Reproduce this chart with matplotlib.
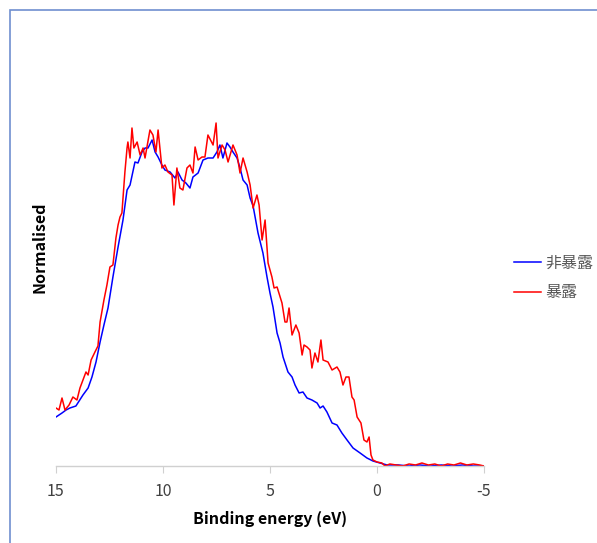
import matplotlib
matplotlib.use("Agg")
import matplotlib.pyplot as plt
from matplotlib.patches import Rectangle

plt.rcParams['font.family'] = ['Noto Sans CJK JP', 'DejaVu Sans']

# Binding energy (eV) and intensities (arbitrary, normalised units)
blue_E = [15.0, 14.72, 14.53, 14.35, 14.07, 13.74, 13.50, 13.32, 13.13, 12.94,
          12.76, 12.57, 12.34, 12.10, 11.87, 11.68, 11.54, 11.31, 11.17, 10.98,
          10.84, 10.70, 10.51, 10.37, 10.23, 10.05, 9.91, 9.67, 9.44, 9.30,
          9.11, 8.93, 8.74, 8.60, 8.36, 8.13, 7.90, 7.66, 7.48, 7.34,
          7.20, 7.01, 6.87, 6.73, 6.54, 6.40, 6.26, 6.07, 5.93, 5.79,
          5.56, 5.33, 5.14, 5.00, 4.86, 4.67, 4.53, 4.39, 4.16, 3.97,
          3.83, 3.64, 3.46, 3.27, 3.04, 2.80, 2.66, 2.52, 2.34, 2.10,
          1.87, 1.64, 1.40, 1.12, 0.79, 0.47, 0.19, -0.14, -0.47, -1.0,
          -1.5, -2.0, -2.5, -3.0, -3.5, -4.0, -4.5, -5.0]
blue_I = [49, 53, 56, 58, 60, 71, 78, 89, 104, 124,
          141, 158, 189, 219, 246, 276, 281, 304, 303, 314,
          318, 318, 326, 314, 309, 301, 296, 294, 288, 294,
          286, 283, 278, 289, 293, 306, 308, 308, 314, 321,
          308, 323, 319, 314, 308, 298, 286, 281, 268, 260,
          233, 213, 189, 173, 159, 133, 123, 109, 94, 89,
          81, 73, 74, 68, 66, 63, 58, 60, 54, 43,
          41, 33, 26, 18, 13, 8, 5, 3, 1, 1,
          0, 1, 0, 1, 0, 1, 0, 0]

red_E = [15.0, 14.86, 14.72, 14.58, 14.39, 14.21, 14.02, 13.88, 13.74, 13.60,
         13.50, 13.36, 13.18, 13.04, 12.94, 12.76, 12.62, 12.48, 12.34, 12.20,
         12.10, 12.01, 11.92, 11.78, 11.68, 11.64, 11.54, 11.45, 11.36, 11.21,
         11.07, 10.93, 10.84, 10.61, 10.47, 10.33, 10.23, 10.05, 9.91, 9.77,
         9.58, 9.49, 9.35, 9.21, 9.07, 8.88, 8.74, 8.60, 8.50, 8.36,
         8.18, 8.04, 7.90, 7.66, 7.52, 7.43, 7.24, 7.10, 6.96, 6.73,
         6.54, 6.40, 6.26, 6.07, 5.93, 5.79, 5.61, 5.51, 5.37, 5.23,
         5.09, 4.91, 4.81, 4.67, 4.44, 4.30, 4.21, 4.11, 3.97, 3.79,
         3.64, 3.50, 3.41, 3.27, 3.13, 3.04, 2.90, 2.76, 2.62, 2.52,
         2.29, 2.10, 1.87, 1.73, 1.59, 1.45, 1.31, 1.17, 1.07, 0.93,
         0.75, 0.61, 0.47, 0.37, 0.28, 0.19, 0.00, -0.23, -0.37, -0.6,
         -0.9, -1.2, -1.5, -1.8, -2.1, -2.4, -2.7, -3.0, -3.3, -3.6,
         -3.9, -4.2, -4.5, -4.8, -5.0]
red_I = [58, 56, 68, 56, 61, 69, 66, 78, 86, 94,
         91, 106, 114, 120, 144, 166, 181, 199, 201, 228,
         241, 249, 253, 294, 318, 324, 308, 338, 318, 324,
         311, 318, 308, 336, 331, 314, 336, 298, 301, 294,
         291, 261, 298, 278, 276, 298, 301, 293, 319, 306,
         309, 309, 331, 321, 343, 308, 321, 316, 304, 321,
         311, 293, 308, 294, 281, 258, 271, 261, 226, 246,
         203, 189, 178, 179, 163, 144, 144, 158, 131, 141,
         133, 111, 121, 119, 116, 98, 113, 104, 126, 106,
         104, 96, 99, 94, 81, 89, 89, 69, 66, 49,
         43, 26, 24, 29, 11, 6, 4, 3, 0, 2,
         1, 0, 2, 1, 3, 1, 2, 0, 2, 1,
         3, 1, 2, 1, 0]

tick_vals = [15, 10, 5, 0, -5]

fig = plt.figure(figsize=(5.97, 5.43), dpi=100)
ax = fig.add_axes([56/597, (543-466)/543, (484-56)/597, (466-28)/543])

l1, = ax.plot(blue_E, blue_I, color='#0000FF', lw=1.1, label='非暴露')
l2, = ax.plot(red_E, red_I, color='#FF0000', lw=1.1, label='暴露')

ax.set_xlim(15, -5)
ax.set_ylim(0, 438)
ax.set_xticks(tick_vals)
ax.set_xticklabels([str(v) for v in tick_vals])
ax.set_yticks([])
for s in ['left', 'right', 'top']:
    ax.spines[s].set_visible(False)
ax.spines['bottom'].set_color('#D0D0D0')
ax.spines['bottom'].set_linewidth(1.0)
ax.tick_params(axis='x', direction='out', length=5, color='#D0D0D0',
               labelsize=11.5, labelcolor='#404040', pad=7)

ax.set_xlabel('Binding energy (eV)', fontsize=11.5, fontweight='bold', labelpad=8)
ax.set_ylabel('Normalised', fontsize=11.5, fontweight='bold', labelpad=6)

leg = fig.legend(handles=[l1, l2], loc='center left',
                 bbox_to_anchor=(514/597, 1 - 278/543), frameon=False,
                 borderaxespad=0, borderpad=0,
                 fontsize=11.5, handlelength=1.7, handletextpad=0.25,
                 labelspacing=0.8)
for t in leg.get_texts():
    t.set_color('#595959')

fig.patches.append(Rectangle((9.5/597, -0.05), 1.2, 1 - 9.5/543 + 0.05,
                             transform=fig.transFigure, fill=False,
                             edgecolor='#6F8FCF', lw=1.2, clip_on=False))

fig.savefig('out.png', dpi=100)
